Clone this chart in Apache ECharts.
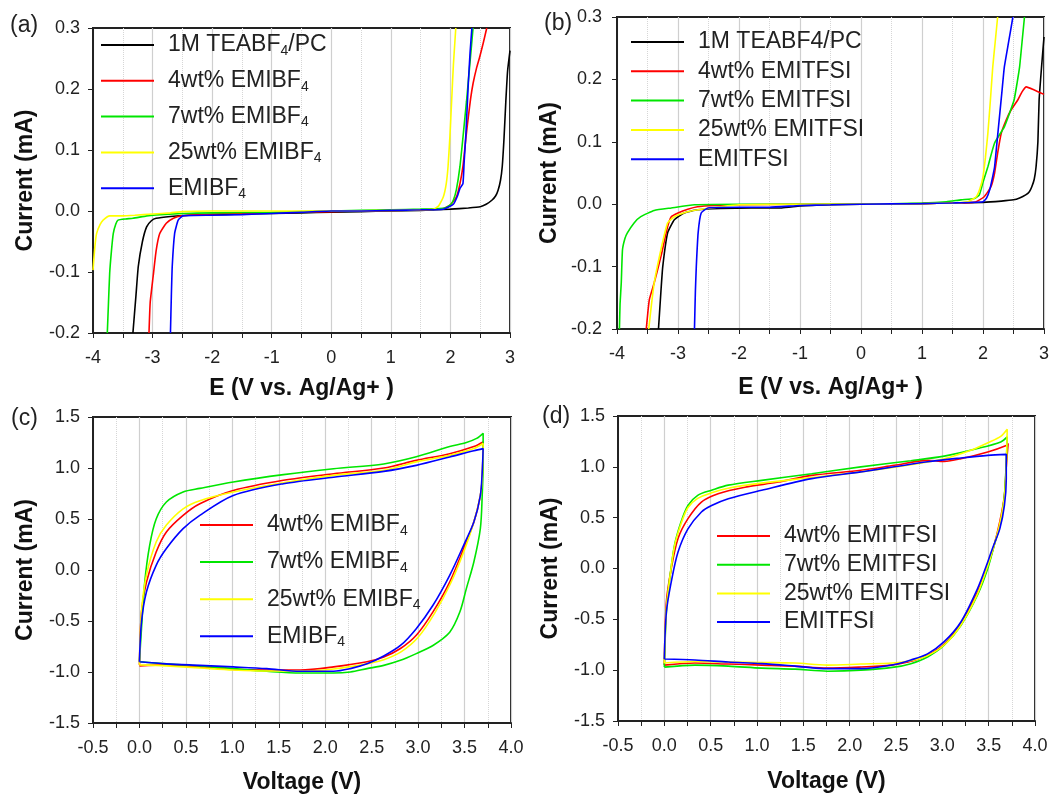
<!DOCTYPE html>
<html>
<head>
<meta charset="utf-8">
<script src="https://cdn.jsdelivr.net/npm/echarts@6/dist/echarts.min.js"></script>
<style>
html,body{margin:0;padding:0;background:#fff;}
#chart{width:1058px;height:796px;}
</style>
</head>
<body>
<div id="chart"></div>
<script>
// ---------- Tick settings ----------
const lsvX = {min: -4, max: 3, interval: 1};
const lsvY = {min: -0.2, max: 0.3, interval: 0.1};
const cvX = {min: -0.5, max: 4.0, interval: 0.5};
const cvY = {min: -1.5, max: 1.5, interval: 0.5};
const panelLabels = ['(a)', '(b)', '(c)', '(d)'];
const xTitles = ['E (V vs. Ag/Ag+ )', 'E (V vs. Ag/Ag+ )', 'Voltage (V)', 'Voltage (V)'];
const yTitle = 'Current (mA)';

// ---------- Names ----------
const namesA = ['1M TEABF4/PC', '4wt% EMIBF4', '7wt% EMIBF4', '25wt% EMIBF4', 'EMIBF4'];
const namesB = ['1M TEABF4/PC', '4wt% EMITFSI', '7wt% EMITFSI', '25wt% EMITFSI', 'EMITFSI'];
const namesC = ['4wt% EMIBF4', '7wt% EMIBF4', '25wt% EMIBF4', 'EMIBF4'];
const namesD = ['4wt% EMITFSI', '7wt% EMITFSI', '25wt% EMITFSI', 'EMITFSI'];

// ---------- (a) LSV, EMIBF4 ----------
const a_TEABF4 = [[-3.33,-0.2],[-3.28,-0.14],[-3.24,-0.091],[-3.17,-0.05],[-3.10,-0.026],[-3.02,-0.016],[-2.94,-0.012],[-2.7,-0.009],[-2.4,-0.007],[-2.0,-0.006],[-1.5,-0.005],[-1.0,-0.004],[-0.5,-0.003],[0,-0.002],[0.5,-0.001],[1.0,0.0],[1.5,0.001],[2.0,0.003],[2.3,0.005],[2.5,0.007],[2.6,0.011],[2.7,0.018],[2.76,0.025],[2.8,0.034],[2.84,0.05],[2.87,0.073],[2.9,0.12],[2.93,0.18],[2.96,0.23],[3.0,0.263]];
const a_4wt = [[-3.06,-0.2],[-3.04,-0.15],[-2.99,-0.107],[-2.94,-0.065],[-2.88,-0.037],[-2.77,-0.02],[-2.65,-0.012],[-2.52,-0.008],[-2.2,-0.006],[-1.8,-0.004],[-1.5,-0.004],[-1.0,-0.003],[-0.5,-0.002],[0,-0.001],[0.5,0.0],[1.0,0.001],[1.5,0.002],[1.88,0.004],[2.0,0.01],[2.10,0.023],[2.16,0.045],[2.21,0.073],[2.26,0.12],[2.30,0.154],[2.34,0.185],[2.38,0.209],[2.44,0.235],[2.49,0.252],[2.55,0.275],[2.61,0.3]];
const a_7wt = [[-3.76,-0.2],[-3.74,-0.15],[-3.72,-0.102],[-3.69,-0.065],[-3.66,-0.037],[-3.62,-0.022],[-3.58,-0.015],[-3.45,-0.013],[-3.33,-0.012],[-3.1,-0.008],[-2.94,-0.0065],[-2.5,-0.004],[-2.0,-0.003],[-1.0,-0.002],[0,0.0],[1.0,0.002],[1.5,0.003],[1.9,0.005],[2.0,0.01],[2.05,0.018],[2.1,0.035],[2.16,0.073],[2.22,0.13],[2.27,0.18],[2.33,0.245],[2.38,0.3]];
const a_25wt = [[-4.0,-0.097],[-3.97,-0.06],[-3.94,-0.037],[-3.88,-0.022],[-3.83,-0.015],[-3.72,-0.008],[-3.5,-0.008],[-3.3,-0.007],[-3.0,-0.005],[-2.7,-0.003],[-2.5,-0.001],[-2.0,0.0],[-1.0,0.0],[0,0.0],[1.0,0.001],[1.5,0.002],[1.71,0.003],[1.8,0.008],[1.88,0.023],[1.93,0.045],[1.96,0.073],[1.99,0.12],[2.02,0.18],[2.05,0.24],[2.09,0.3]];
const a_neat = [[-2.70,-0.2],[-2.685,-0.14],[-2.67,-0.091],[-2.63,-0.037],[-2.57,-0.015],[-2.49,-0.008],[-2.0,-0.007],[-1.5,-0.006],[-1.0,-0.004],[-0.5,-0.002],[0,0.0],[0.5,0.0],[1.0,0.001],[1.5,0.002],[1.88,0.003],[2.05,0.011],[2.12,0.025],[2.16,0.037],[2.21,0.045],[2.23,0.08],[2.26,0.127],[2.30,0.209],[2.33,0.26],[2.36,0.3]];

// ---------- (b) LSV, EMITFSI ----------
const b_TEABF4 = [[-3.32,-0.2],[-3.28,-0.14],[-3.25,-0.1],[-3.17,-0.046],[-3.06,-0.025],[-2.9,-0.014],[-2.68,-0.009],[-2.3,-0.007],[-1.8,-0.006],[-1.3,-0.006],[-1.0,-0.003],[-0.5,-0.001],[0,0.0],[0.5,0.0],[1.0,0.001],[1.5,0.002],[2.0,0.003],[2.3,0.005],[2.5,0.007],[2.6,0.01],[2.7,0.015],[2.76,0.02],[2.8,0.028],[2.84,0.04],[2.87,0.06],[2.9,0.1],[2.92,0.167],[2.96,0.22],[3.0,0.268]];
const b_4wt = [[-3.52,-0.2],[-3.47,-0.153],[-3.39,-0.126],[-3.28,-0.084],[-3.17,-0.036],[-3.11,-0.02],[-3.0,-0.014],[-2.84,-0.008],[-2.68,-0.004],[-2.4,-0.002],[-2.0,-0.001],[-1.0,0.0],[0,0.0],[1.0,0.001],[1.5,0.002],[1.86,0.003],[2.02,0.012],[2.13,0.028],[2.19,0.05],[2.24,0.082],[2.30,0.114],[2.38,0.135],[2.46,0.151],[2.57,0.167],[2.64,0.18],[2.71,0.188],[2.84,0.183],[3.0,0.176]];
const b_7wt = [[-3.96,-0.2],[-3.95,-0.16],[-3.93,-0.126],[-3.91,-0.073],[-3.87,-0.055],[-3.83,-0.046],[-3.72,-0.03],[-3.61,-0.02],[-3.39,-0.01],[-3.11,-0.006],[-2.73,-0.001],[-2.0,0.0],[-1.0,0.0],[0,0.0],[1.0,0.002],[1.4,0.004],[1.64,0.007],[1.86,0.009],[1.94,0.015],[2.0,0.035],[2.08,0.06],[2.19,0.098],[2.35,0.124],[2.45,0.15],[2.51,0.167],[2.56,0.195],[2.60,0.22],[2.64,0.26],[2.68,0.3]];
const b_25wt = [[-3.48,-0.2],[-3.44,-0.165],[-3.39,-0.126],[-3.28,-0.073],[-3.17,-0.03],[-3.06,-0.02],[-2.84,-0.012],[-2.62,-0.008],[-2.3,-0.004],[-2.0,-0.001],[-1.0,0.0],[0,0.0],[1.0,0.001],[1.5,0.002],[1.75,0.004],[1.89,0.012],[1.95,0.025],[2.0,0.044],[2.04,0.075],[2.08,0.114],[2.12,0.165],[2.16,0.22],[2.20,0.26],[2.24,0.3]];
const b_neat = [[-2.73,-0.2],[-2.715,-0.14],[-2.70,-0.1],[-2.67,-0.046],[-2.62,-0.014],[-2.51,-0.006],[-2.0,-0.005],[-1.5,-0.005],[-1.0,-0.002],[-0.5,-0.001],[0,0.0],[1.0,0.001],[1.5,0.002],[2.0,0.004],[2.06,0.01],[2.11,0.023],[2.15,0.04],[2.19,0.06],[2.23,0.1],[2.27,0.14],[2.31,0.18],[2.35,0.22],[2.42,0.26],[2.49,0.3]];

// ---------- (c) CV, EMIBF4 ----------
const c_4wt = [[0,-0.93],[0.022,-0.41],[0.075,-0.12],[0.18,0.176],[0.29,0.373],[0.47,0.536],[0.65,0.65],[1.01,0.78],[1.55,0.88],[2.09,0.944],[2.63,1.0],[2.98,1.075],[3.34,1.14],[3.60,1.21],[3.70,1.255],[3.69,0.895],[3.67,0.73],[3.60,0.47],[3.49,0.21],[3.34,-0.118],[3.16,-0.41],[2.98,-0.64],[2.81,-0.77],[2.63,-0.853],[2.45,-0.90],[2.09,-0.95],[1.73,-0.98],[1.37,-0.98],[1.01,-0.974],[0.65,-0.95],[0.29,-0.93],[0,-0.94]];
const c_7wt = [[0,-0.90],[0.022,-0.575],[0.057,-0.118],[0.11,0.242],[0.18,0.50],[0.29,0.667],[0.47,0.765],[0.65,0.80],[1.01,0.863],[1.55,0.935],[2.09,0.993],[2.63,1.04],[2.98,1.11],[3.34,1.21],[3.52,1.25],[3.63,1.29],[3.70,1.34],[3.70,1.06],[3.69,0.73],[3.67,0.405],[3.60,0.078],[3.52,-0.18],[3.45,-0.41],[3.34,-0.61],[3.16,-0.74],[2.98,-0.82],[2.81,-0.886],[2.63,-0.935],[2.45,-0.967],[2.27,-1.0],[2.09,-1.01],[1.73,-1.01],[1.37,-0.993],[1.01,-0.967],[0.65,-0.94],[0.29,-0.92],[0,-0.90]];
const c_25wt = [[0,-0.93],[0.022,-0.41],[0.075,-0.05],[0.18,0.275],[0.29,0.44],[0.47,0.60],[0.65,0.68],[1.01,0.765],[1.55,0.856],[2.09,0.928],[2.63,0.977],[2.98,1.06],[3.34,1.124],[3.60,1.19],[3.70,1.24],[3.69,0.90],[3.67,0.73],[3.60,0.47],[3.50,0.20],[3.35,-0.13],[3.18,-0.42],[3.00,-0.66],[2.82,-0.80],[2.63,-0.88],[2.45,-0.92],[2.09,-0.97],[1.73,-0.99],[1.37,-0.99],[1.01,-0.98],[0.65,-0.96],[0.29,-0.94],[0,-0.93]];
const c_neat = [[0,-0.90],[0.022,-0.51],[0.075,-0.216],[0.18,0.046],[0.29,0.21],[0.47,0.405],[0.65,0.536],[1.01,0.73],[1.55,0.846],[2.09,0.91],[2.63,0.967],[2.98,1.026],[3.34,1.108],[3.60,1.17],[3.70,1.19],[3.69,0.96],[3.67,0.73],[3.60,0.47],[3.49,0.242],[3.34,-0.052],[3.16,-0.346],[2.98,-0.575],[2.81,-0.74],[2.63,-0.843],[2.45,-0.92],[2.27,-0.967],[2.09,-0.993],[1.73,-0.993],[1.37,-0.967],[1.01,-0.95],[0.65,-0.935],[0.29,-0.92],[0,-0.90]];

// ---------- (d) CV, EMITFSI ----------
const d_4wt = [[0,-0.95],[0.022,-0.33],[0.075,0.0],[0.147,0.293],[0.255,0.49],[0.40,0.654],[0.58,0.736],[0.87,0.80],[1.23,0.85],[1.59,0.916],[2.12,0.966],[2.48,1.015],[2.84,1.064],[3.02,1.054],[3.20,1.08],[3.49,1.146],[3.69,1.21],[3.71,1.23],[3.69,1.0],[3.67,0.72],[3.62,0.46],[3.55,0.2],[3.48,0.0],[3.36,-0.27],[3.18,-0.57],[3.00,-0.76],[2.82,-0.86],[2.63,-0.92],[2.45,-0.95],[2.10,-0.97],[1.76,-0.98],[1.40,-0.96],[1.05,-0.95],[0.69,-0.94],[0.33,-0.93],[0,-0.95]];
const d_7wt = [[0,-0.97],[0.022,-0.43],[0.058,-0.10],[0.11,0.23],[0.18,0.457],[0.255,0.62],[0.36,0.72],[0.51,0.77],[0.69,0.82],[1.05,0.867],[1.59,0.932],[2.12,1.0],[2.66,1.06],[3.02,1.105],[3.38,1.18],[3.63,1.245],[3.70,1.295],[3.69,1.05],[3.67,0.72],[3.63,0.457],[3.56,0.228],[3.49,0.0],[3.38,-0.26],[3.20,-0.56],[3.02,-0.755],[2.84,-0.87],[2.66,-0.936],[2.48,-0.97],[2.12,-1.0],[1.76,-1.01],[1.41,-0.99],[1.05,-0.98],[0.69,-0.96],[0.33,-0.95],[0,-0.97]];
const d_25wt = [[0,-0.93],[0.022,-0.40],[0.058,-0.10],[0.11,0.22],[0.18,0.44],[0.255,0.60],[0.36,0.69],[0.51,0.745],[0.69,0.79],[1.05,0.84],[1.59,0.895],[2.12,0.95],[2.66,1.02],[3.02,1.08],[3.30,1.16],[3.50,1.24],[3.63,1.30],[3.70,1.37],[3.69,1.0],[3.67,0.70],[3.62,0.44],[3.55,0.2],[3.48,0.0],[3.37,-0.27],[3.19,-0.57],[3.01,-0.76],[2.83,-0.86],[2.64,-0.91],[2.46,-0.93],[2.12,-0.94],[1.76,-0.95],[1.41,-0.93],[1.05,-0.925],[0.69,-0.92],[0.33,-0.915],[0,-0.93]];
const d_neat = [[0,-0.89],[0.022,-0.43],[0.075,-0.13],[0.147,0.16],[0.255,0.39],[0.40,0.556],[0.51,0.62],[0.69,0.687],[1.05,0.77],[1.59,0.884],[2.12,0.95],[2.48,1.0],[2.84,1.05],[3.20,1.087],[3.49,1.113],[3.69,1.123],[3.69,0.884],[3.67,0.62],[3.62,0.39],[3.54,0.195],[3.49,0.064],[3.38,-0.198],[3.20,-0.526],[3.02,-0.72],[2.84,-0.84],[2.66,-0.90],[2.48,-0.945],[2.12,-0.985],[1.76,-0.985],[1.41,-0.96],[1.05,-0.936],[0.69,-0.92],[0.33,-0.90],[0,-0.89]];

// ---------- Style ----------
const FONT = 'Liberation Sans, Arial, sans-serif';
const colBlack = '#000000', colRed = '#ff0000', colGreen = '#00e600', colYellow = '#ffff00', colBlue = '#0000ff';
const gridsPx = [
  {left: 93, top: 28, width: 417, height: 305},
  {left: 617, top: 17, width: 427, height: 312},
  {left: 93, top: 417, width: 418, height: 306},
  {left: 618, top: 416, width: 417, height: 305}
];

function xAxisCfg(gi, sc, title, dec, gap) {
  return {
    gridIndex: gi, type: 'value', min: sc.min, max: sc.max, interval: sc.interval,
    name: title, nameLocation: 'middle', nameGap: gap,
    nameTextStyle: {fontSize: 23, fontWeight: 'bold', color: '#111', fontFamily: FONT},
    axisLine: {show: true, onZero: false, lineStyle: {color: '#222', width: 2}},
    axisTick: {show: true, inside: false, length: 5, lineStyle: {color: '#222', width: 1}},
    minorTick: {show: true, splitNumber: 2, length: 5, lineStyle: {color: '#222', width: 1}},
    axisLabel: {fontSize: 18, color: '#222', margin: 16, fontFamily: FONT,
      formatter: v => Number(v).toFixed(dec)},
    splitLine: {show: true, lineStyle: {color: '#cfcfcf', width: 1.2}},
    minorSplitLine: {show: true, lineStyle: {color: '#d6d6d6', width: 1, type: 'dotted'}}
  };
}
function yAxisCfg(gi, sc, margin) {
  return {
    gridIndex: gi, type: 'value', min: sc.min, max: sc.max, interval: sc.interval,
    name: yTitle, nameLocation: 'middle', nameGap: 56,
    nameTextStyle: {fontSize: 23, fontWeight: 'bold', color: '#111', fontFamily: FONT},
    axisLine: {show: true, onZero: false, lineStyle: {color: '#222', width: 2}},
    axisTick: {show: true, inside: false, length: 5, lineStyle: {color: '#222', width: 1}},
    axisLabel: {fontSize: 18, color: '#222', margin: margin, fontFamily: FONT,
      formatter: v => Number(v).toFixed(1)},
    splitLine: {show: false}
  };
}
function ser(gi, name, color, data, smooth) {
  return {
    type: 'line', name: name, xAxisIndex: gi, yAxisIndex: gi, data: data,
    showSymbol: false, symbol: 'none', smooth: smooth, clip: true,
    lineStyle: {color: color, width: 1.6}, itemStyle: {color: color},
    emphasis: {disabled: true}
  };
}
const subFmt = n => n.replace('BF4', 'BF{s|4}');
function legendCfg(names, left, top, gap, useSub) {
  return {
    orient: 'vertical', left: left, top: top, itemGap: gap, data: names, padding: 0,
    icon: 'rect', itemWidth: 53, itemHeight: 2, selectedMode: false,
    formatter: useSub ? subFmt : (n => n),
    textStyle: {fontSize: 23, color: '#222', fontFamily: FONT, lineHeight: 26, padding: [0, 0, 0, 9],
      rich: {s: {fontSize: 14, lineHeight: 12, verticalAlign: 'bottom', fontFamily: FONT, color: '#222'}}}
  };
}

const seriesList = [];
const colsA = [colBlack, colRed, colGreen, colYellow, colBlue];
[a_TEABF4, a_4wt, a_7wt, a_25wt, a_neat].forEach((d, i) => seriesList.push(ser(0, namesA[i], colsA[i], d, 0.15)));
[b_TEABF4, b_4wt, b_7wt, b_25wt, b_neat].forEach((d, i) => seriesList.push(ser(1, namesB[i], colsA[i], d, 0.15)));
const colsC = [colRed, colGreen, colYellow, colBlue];
[c_4wt, c_7wt, c_25wt, c_neat].forEach((d, i) => seriesList.push(ser(2, namesC[i], colsC[i], d, 0.3)));
[d_4wt, d_7wt, d_25wt, d_neat].forEach((d, i) => seriesList.push(ser(3, namesD[i], colsC[i], d, 0.3)));

const labelPos = [[10, 14], [544, 12], [11, 407], [542, 405]];

const option = {
  animation: false,
  backgroundColor: '#ffffff',
  title: panelLabels.map((t, i) => ({text: t, left: labelPos[i][0], top: labelPos[i][1], padding: 0,
    textStyle: {fontSize: 23, fontWeight: 'normal', color: '#222', fontFamily: FONT}})),
  grid: gridsPx.map(g => Object.assign({show: true, borderColor: '#222', borderWidth: 2, backgroundColor: 'transparent'}, g)),
  xAxis: [xAxisCfg(0, lsvX, xTitles[0], 0, 44), xAxisCfg(1, lsvX, xTitles[1], 0, 47), xAxisCfg(2, cvX, xTitles[2], 1, 48), xAxisCfg(3, cvX, xTitles[3], 1, 49)],
  yAxis: [yAxisCfg(0, lsvY, 13), yAxisCfg(1, lsvY, 15), yAxisCfg(2, cvY, 13), yAxisCfg(3, cvY, 13)],
  legend: [
    legendCfg(namesA, 101, 32, 9.8, true),
    legendCfg(namesB, 631, 29, 3.3, false),
    legendCfg(namesC, 200, 512, 11.1, true),
    legendCfg(namesD, 717, 523, 2.7, false)
  ],
  series: seriesList
};
const chart = echarts.init(document.getElementById('chart'), null, {renderer: 'canvas'});
chart.setOption(option);
</script>
</body>
</html>
